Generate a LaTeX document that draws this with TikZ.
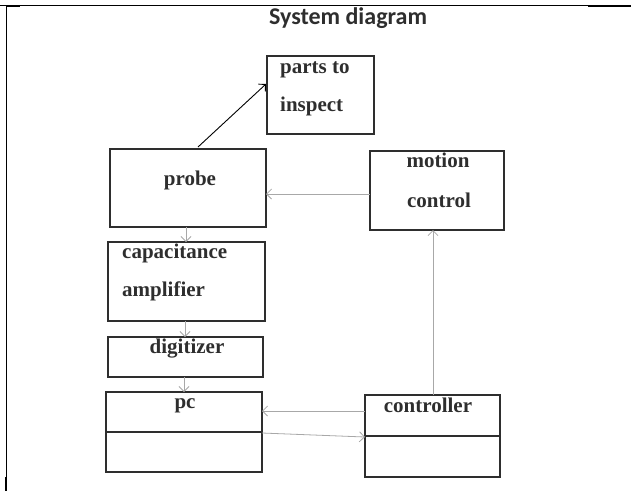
\documentclass[tikz,border=0pt]{standalone}
\usepackage{fontspec}
\setmainfont{Liberation Serif}
\newfontfamily\titlefont{Carlito}
\usetikzlibrary{arrows.meta}
\definecolor{inkgray}{HTML}{2E2E2E}
\definecolor{flowgray}{HTML}{A8A8A8}
\begin{document}
\begin{tikzpicture}[x=1pt,y=-1pt,
  box/.style={draw=inkgray, line width=1.5pt, rectangle, inner sep=0pt, outer sep=0pt},
  lbl/.style={font=\bfseries\fontsize{21}{25}\selectfont, text=inkgray, inner sep=0pt},
  flow/.style={draw=flowgray, line width=0.8pt, -{Straight Barb[length=5pt,width=10pt]}},
  dark/.style={draw=black, line width=0.9pt, -{Straight Barb[length=5pt,width=10pt]}},
  rule/.style={draw=black, line width=1pt}]
\useasboundingbox (0,0) rectangle (631,491);

% page rules
\draw[rule] (0,5) -- (631,5);
\draw[rule] (6,5) -- (6,491);
\draw[line width=2pt] (6,5.5) -- (20,5.5);
\draw[line width=2pt] (588,5.5) -- (631,5.5);
\draw[line width=2pt] (6,477) -- (6,491);

% title
\node[font=\titlefont\bfseries\fontsize{24}{28}\selectfont, text=inkgray, inner sep=0pt] (title) at (348,18) {System diagram};

% blocks
\node[box, minimum width=107pt, minimum height=78pt] (parts) at (320.5,95) {};
\node[box, minimum width=156pt, minimum height=78pt] (probe) at (188,188) {};
\node[box, minimum width=134pt, minimum height=79pt] (motion) at (437,190.5) {};
\node[box, minimum width=157pt, minimum height=79pt] (amp) at (186.5,281.5) {};
\node[box, minimum width=155pt, minimum height=40pt] (dig) at (185.5,357) {};
\node[box, minimum width=156pt, minimum height=80pt] (pc) at (184,432) {};
\node[box, minimum width=135pt, minimum height=82pt] (ctrl) at (432.5,436) {};
\draw[draw=inkgray, line width=1.5pt] (pc.west) -- (pc.east);
\draw[draw=inkgray, line width=1.5pt] (ctrl.west) -- (ctrl.east);

% labels
\node[lbl, anchor=base west] (t1) at (280,73) {parts to};
\node[lbl, anchor=base west] (t2) at (280,111) {inspect};
\node[lbl, anchor=base] (t3) at (190,185) {probe};
\node[lbl, anchor=base] (t4) at (438,167) {motion};
\node[lbl, anchor=base] (t5) at (439,207) {control};
\node[lbl, anchor=base west] (t6) at (122,258) {capacitance};
\node[lbl, anchor=base west] (t7) at (122,296) {amplifier};
\node[lbl, anchor=base] (t8) at (187,353) {digitizer};
\node[lbl, anchor=base] (t9) at (185,408) {pc};
\node[lbl, anchor=base] (t10) at (428,412) {controller};

% connectors
\coordinate (probetop) at (198,147);
\coordinate (partsin) at (266,84);
\draw[dark] (probetop) -- (partsin);
\draw[flow] (motion.west |- 0,194) -- (probe.east |- 0,194);
\draw[flow] (probe.south -| 186,0) -- (amp.north -| 186,0);
\draw[flow] (amp.south -| 185,0) -- (dig.north -| 185,0);
\draw[flow] (dig.south -| 184,0) -- (pc.north -| 184,0);
\draw[flow] (ctrl.west |- 0,411) -- (pc.east |- 0,411);
\draw[flow] (pc.east |- 0,433) -- (ctrl.west |- 0,437);
\draw[flow] (ctrl.north -| 433,0) -- (motion.south -| 433,0);
\end{tikzpicture}
\end{document}
